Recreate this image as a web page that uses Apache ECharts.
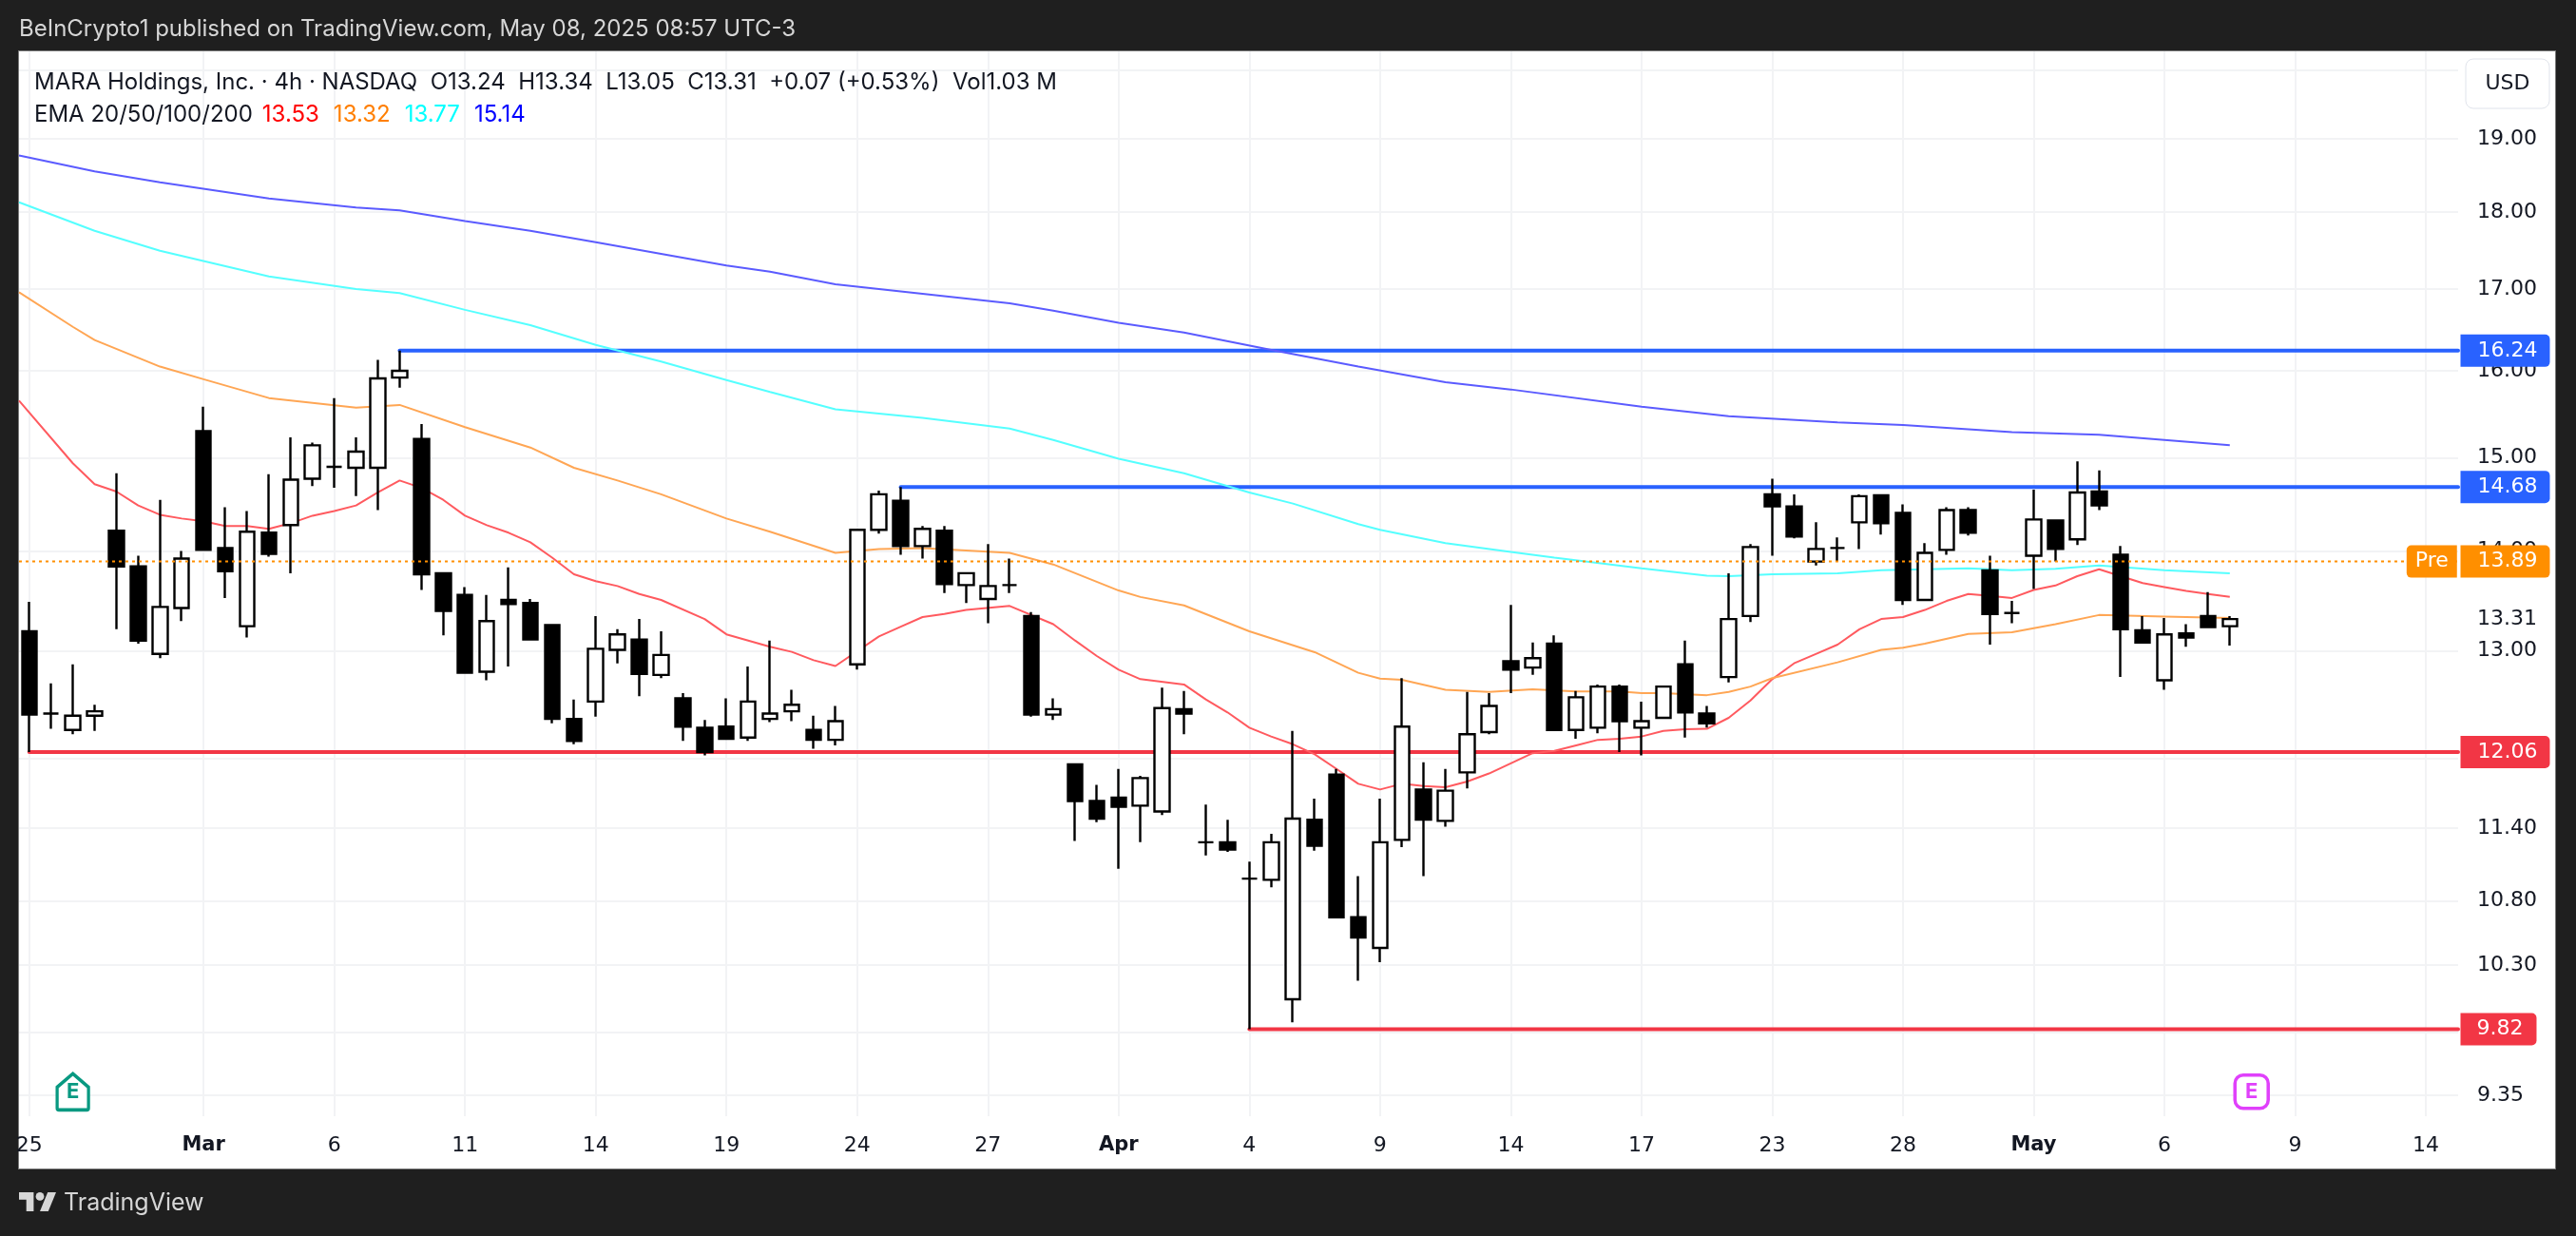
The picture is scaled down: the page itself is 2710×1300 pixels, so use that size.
<!DOCTYPE html>
<html>
<head>
    <meta charset="utf-8">
    <title>MARA Holdings 4h</title>
    <script type="text/javascript" src="https://cdn.jsdelivr.net/npm/echarts@6/dist/echarts.min.js"></script>
    <style>
        html, body { margin: 0; padding: 0; background: #1f1f1f; }
        #panel { position: absolute; left: 20px; top: 54px; width: 2668px; height: 1175px; background: #fff; border: 1px solid #7a7a7a; box-sizing: content-box; margin: -1px 0 0 -1px; }
        #main { position: absolute; left: 0; top: 0; width: 2710px; height: 1300px; }
    </style>
</head>

<body>
    <div id="panel"></div>
    <div id="main"></div>
    <script type="text/javascript">
    // candles, one per 4h session (2 a day)
    var opens = [13.19,12.41,12.26,12.39,14.21,13.84,12.97,13.42,15.30,14.03,13.24,14.19,14.27,14.77,14.90,14.89,14.89,15.92,15.21,13.77,13.55,12.80,13.50,13.47,13.25,12.36,12.52,13.01,13.11,12.77,12.55,12.28,12.29,12.19,12.36,12.43,12.26,12.17,12.87,14.22,14.53,14.05,14.21,13.65,13.51,13.65,13.34,12.40,11.95,11.63,11.66,11.59,11.54,12.45,11.28,11.28,10.98,10.97,10.04,11.47,11.86,10.67,10.43,11.30,11.73,11.46,11.88,12.24,12.90,12.84,13.07,12.26,12.28,12.66,12.28,12.37,12.87,12.41,12.75,13.34,14.60,14.47,13.89,14.03,14.30,14.59,14.40,13.50,14.01,14.43,13.80,13.37,13.95,14.32,14.12,14.63,13.96,13.20,12.72,13.17,13.34,13.24];
    var closes = [12.40,12.41,12.39,12.43,13.84,13.10,13.43,13.92,14.01,13.79,14.20,13.97,14.76,15.14,14.90,15.07,15.91,16.00,13.76,13.39,12.79,13.29,13.46,13.11,12.36,12.16,13.02,13.16,12.78,12.96,12.29,12.06,12.18,12.52,12.41,12.49,12.17,12.34,14.22,14.60,14.05,14.23,13.66,13.77,13.64,13.65,12.40,12.45,11.63,11.48,11.58,11.83,12.46,12.41,11.28,11.22,10.98,11.28,11.48,11.25,10.67,10.51,11.28,12.29,11.47,11.72,12.22,12.48,12.82,12.93,12.26,12.56,12.66,12.34,12.34,12.66,12.42,12.32,13.31,14.04,14.47,14.15,14.02,14.03,14.58,14.29,13.50,13.98,14.43,14.19,13.36,13.37,14.33,14.02,14.62,14.48,13.21,13.08,13.16,13.13,13.23,13.31];
    var lows = [12.06,12.27,12.22,12.25,13.21,13.07,12.93,13.29,14.00,13.52,13.13,13.94,13.77,14.69,14.67,14.58,14.43,15.80,13.60,13.15,12.79,12.72,12.85,13.11,12.32,12.13,12.38,12.88,12.57,12.74,12.16,12.03,12.18,12.16,12.33,12.34,12.09,12.12,12.82,14.18,13.96,13.92,13.57,13.47,13.27,13.57,12.38,12.35,11.29,11.45,11.06,11.28,11.51,12.22,11.17,11.20,9.82,10.91,9.87,11.21,10.66,10.18,10.32,11.24,11.00,11.41,11.74,12.22,12.60,12.77,12.25,12.18,12.23,12.06,12.03,12.37,12.19,12.28,12.70,13.28,13.95,14.13,13.85,13.89,14.02,14.17,13.45,13.50,13.96,14.16,13.06,13.27,13.61,13.89,14.06,14.43,12.75,13.07,12.63,13.04,13.22,13.05];
    var highs = [13.48,12.69,12.87,12.49,14.83,13.95,14.54,14.00,15.58,14.46,14.42,14.82,15.23,15.17,15.68,15.23,16.13,16.24,15.38,13.78,13.63,13.55,13.83,13.51,13.26,12.54,13.34,13.21,13.31,13.19,12.60,12.35,12.55,12.85,13.10,12.63,12.39,12.48,14.22,14.64,14.68,14.26,14.26,13.78,14.07,13.92,13.38,12.55,11.96,11.77,11.91,11.85,12.65,12.62,11.60,11.47,11.12,11.35,12.25,11.65,11.91,11.00,11.65,12.74,11.97,11.91,12.61,12.60,13.45,13.08,13.15,12.62,12.68,12.68,12.52,12.67,13.10,12.48,13.77,14.07,14.77,14.60,14.30,14.14,14.60,14.60,14.49,14.08,14.46,14.46,13.95,13.49,14.65,14.33,14.96,14.86,14.05,13.34,13.32,13.26,13.58,13.34];

    // EMA lines as [session index, price], only at the knots that could be read
    var ema20 = [[-0.47,15.65],[2,14.94],[3,14.71],[4,14.63],[5,14.48],[6,14.38],[7,14.34],[8,14.31],[9,14.26],[10,14.26],[11,14.23],[12,14.29],[13,14.37],[14,14.42],[15,14.48],[16,14.62],[17,14.75],[18,14.67],[19,14.54],[20,14.37],[21,14.27],[22,14.19],[23,14.09],[24,13.93],[25,13.76],[26,13.69],[27,13.64],[28,13.56],[29,13.50],[31,13.31],[32,13.16],[34,13.04],[35,12.99],[36,12.91],[37,12.855],[39,13.14],[40,13.235],[41,13.33],[42,13.36],[43,13.40],[45,13.44],[47,13.26],[48,13.10],[49,12.95],[50,12.82],[51,12.73],[53,12.68],[54,12.54],[55,12.42],[56,12.28],[57,12.20],[58,12.13],[59,12.04],[60,11.91],[61,11.78],[62,11.73],[63,11.78],[64,11.76],[65,11.75],[66,11.80],[67,11.87],[68,11.96],[69,12.05],[70,12.07],[71,12.12],[72,12.17],[73,12.18],[74,12.20],[75,12.25],[76,12.265],[77,12.27],[78,12.37],[79,12.53],[80,12.73],[81,12.88],[82,12.97],[83,13.06],[84,13.21],[85,13.31],[86,13.33],[87,13.40],[88,13.49],[89,13.56],[90,13.54],[91,13.52],[92,13.60],[93,13.645],[94,13.74],[95,13.81],[96,13.74],[97,13.67],[98,13.63],[99,13.59],[100,13.56],[101,13.53]];
    var ema50 = [[-0.47,16.96],[2,16.53],[3,16.37],[6,16.05],[8,15.90],[11,15.68],[15,15.57],[17,15.60],[20,15.345],[23,15.115],[25,14.89],[27,14.75],[29,14.60],[32,14.34],[34,14.20],[37,13.98],[39,14.02],[41,14.03],[45,13.98],[47,13.86],[50,13.595],[51,13.53],[53,13.445],[56,13.19],[59,12.987],[61,12.79],[62,12.735],[63,12.724],[65,12.63],[67,12.61],[69,12.635],[71,12.615],[73,12.615],[74,12.60],[75,12.60],[77,12.58],[78,12.61],[79,12.66],[80,12.74],[83,12.89],[85,13.01],[86,13.03],[87,13.07],[89,13.165],[91,13.18],[93,13.26],[95,13.35],[98,13.335],[101,13.32]];
    var ema100 = [[-0.47,18.13],[3,17.75],[6,17.49],[11,17.16],[15,17.00],[17,16.95],[20,16.74],[23,16.55],[26,16.31],[29,16.11],[32,15.89],[34,15.75],[37,15.55],[41,15.45],[45,15.33],[47,15.20],[50,14.99],[53,14.83],[56,14.62],[58,14.50],[61,14.28],[62,14.22],[65,14.08],[68,13.99],[70,13.93],[74,13.82],[77,13.745],[78,13.74],[80,13.76],[83,13.77],[85,13.80],[89,13.82],[91,13.80],[93,13.815],[95,13.85],[98,13.80],[101,13.77]];
    var ema200 = [[-0.47,18.77],[3,18.55],[6,18.40],[11,18.18],[15,18.06],[17,18.02],[20,17.88],[23,17.75],[26,17.60],[29,17.45],[32,17.30],[34,17.22],[37,17.06],[41,16.94],[45,16.82],[47,16.73],[50,16.58],[53,16.46],[57,16.25],[61,16.05],[65,15.865],[68,15.78],[74,15.58],[78,15.47],[83,15.40],[86,15.37],[91,15.29],[95,15.26],[101,15.14]];

    // drawn support / resistance levels
    var levelPrices = [16.24, 14.68, 12.06, 9.82];
    var levelStarts = [17, 40, 0, 56];
    var levelColors = ['#2962ff', '#2962ff', '#f23645', '#f23645'];
    var prePrice = 13.89;
    var earningsIdx = [2, 102];
    var earningsPrice = 9.375;

    // axes
    var xTickIdx = [0, 8, 14, 20, 26, 32, 38, 44, 50, 56, 62, 68, 74, 80, 86, 92, 98, 104, 110];
    var xTickText = ['25', 'Mar', '6', '11', '14', '19', '24', '27', 'Apr', '4', '9', '14', '17', '23', '28', 'May', '6', '9', '14'];
    var xMonths = ['Mar', 'Apr', 'May'];
    var priceGrid = [20, 19, 18, 17, 16, 15, 14, 13, 12, 11.4, 10.8, 10.3, 9.8, 9.35];
    var priceLabels = [19, 18, 17, 16, 15, 14, 13.31, 13, 11.4, 10.8, 10.3, 9.35];

    var xMin = -0.47, xMax = 111.48;
    var gridColor = '#f2f3f5';
    var textColor = '#131722';
    var font = 'Inter';
    var axisFont = 'DejaVu Sans';

    var candleData = [];
    for (var i = 0; i < opens.length; i++) {
        candleData.push([i, opens[i], closes[i], lows[i], highs[i]]);
    }

    function emaSeries(name, data, color) {
        return {
            name: name,
            type: 'line',
            data: data,
            showSymbol: false,
            smooth: false,
            z: 3,
            lineStyle: { color: color, width: 2 }
        };
    }

    var series = [];
    // levels sit under the candles
    for (var k = 0; k < levelPrices.length; k++) {
        series.push({
            type: 'line',
            data: [[levelStarts[k], levelPrices[k]], [xMax, levelPrices[k]]],
            showSymbol: false,
            z: 2,
            lineStyle: { color: levelColors[k], width: 4, cap: 'round' }
        });
    }
    series.push(emaSeries('EMA 20', ema20, '#ff5a5f'));
    series.push(emaSeries('EMA 50', ema50, '#ffa654'));
    series.push(emaSeries('EMA 100', ema100, '#55ffff'));
    series.push(emaSeries('EMA 200', ema200, '#5b5bff'));
    series.push({
        type: 'candlestick',
        data: candleData,
        barWidth: 16,
        z: 4,
        itemStyle: {
            color: '#ffffff',
            color0: '#000000',
            borderColor: '#000000',
            borderColor0: '#000000',
            borderWidth: 2.4
        }
    });
    series.push({
        type: 'line',
        data: [[xMin, prePrice], [xMax, prePrice]],
        showSymbol: false,
        z: 5,
        lineStyle: { color: '#ff8f00', width: 2, type: [3, 4] }
    });

    // price tags right of the pane
    var tagData = [];
    for (var t = 0; t < levelPrices.length; t++) {
        tagData.push({
            value: [xMax, levelPrices[t]],
            label: {
                backgroundColor: levelColors[t],
                padding: levelPrices[t] < 10 ? [6, 14, 6, 17] : [6, 13, 6, 18],
                formatter: levelPrices[t].toFixed(2)
            }
        });
    }
    tagData.push({
        value: [xMax, prePrice],
        label: { backgroundColor: '#ff8f00', padding: [6, 13, 6, 18], formatter: prePrice.toFixed(2) }
    });
    series.push({
        type: 'scatter',
        data: tagData,
        symbolSize: 1,
        clip: false,
        z: 6,
        itemStyle: { color: 'rgba(0,0,0,0)', opacity: 1 },
        label: {
            show: true,
            position: 'right',
            distance: 2,
            color: '#fff',
            fontFamily: axisFont,
            fontSize: 22,
            lineHeight: 22,
            borderRadius: [0, 5, 5, 0]
        }
    });
    series.push({
        type: 'scatter',
        data: [[109.05, prePrice]],
        symbolSize: 1,
        clip: false,
        z: 6,
        itemStyle: { color: 'rgba(0,0,0,0)', opacity: 1 },
        label: {
            show: true,
            position: 'right',
            distance: 1,
            formatter: 'Pre',
            color: '#fff',
            fontFamily: axisFont,
            fontSize: 22,
            lineHeight: 22,
            backgroundColor: '#ff8f00',
            padding: [6, 9, 6, 9],
            borderRadius: [5, 0, 0, 5]
        }
    });

    // earnings markers
    var eLabel = { show: true, position: 'inside', formatter: 'E', fontFamily: font, fontSize: 22, fontWeight: 700 };
    series.push({
        type: 'scatter',
        data: [[earningsIdx[0], earningsPrice]],
        symbol: 'path://M18 0 L36 15 L36 38 Q36 40 34 40 L2 40 Q0 40 0 38 L0 15 Z',
        symbolSize: [33, 38],
        z: 7,
        itemStyle: { color: '#fff', borderColor: '#089981', borderWidth: 3.5, opacity: 1 },
        label: Object.assign({}, eLabel, { color: '#089981' })
    });
    series.push({
        type: 'scatter',
        data: [[earningsIdx[1], earningsPrice]],
        symbol: 'roundRect',
        symbolSize: [35, 35],
        z: 7,
        itemStyle: { color: '#fff', borderColor: '#e040fb', borderWidth: 3.5, opacity: 1 },
        label: Object.assign({}, eLabel, { color: '#e040fb' })
    });

    var myChart = echarts.init(document.getElementById('main'), null, { renderer: 'canvas' });

    var dk = { color: textColor, fontFamily: font, fontSize: 24 };
    var option = {
        animation: false,
        backgroundColor: 'transparent',
        title: [{
            text: 'BeInCrypto1 published on TradingView.com, May 08, 2025 08:57 UTC-3',
            left: 20, top: 19, padding: 0,
            textStyle: { color: '#d6d6d6', fontFamily: font, fontSize: 24, fontWeight: 400 }
        }, {
            text: '{a|MARA Holdings, Inc. · 4h · NASDAQ  O13.24  H13.34  L13.05  C13.31  +0.07 (+0.53%)  Vol1.03 M}',
            left: 36, top: 75, padding: 0,
            textStyle: { fontWeight: 400, rich: { a: dk } }
        }, {
            text: '{a|EMA 20/50/100/200}  {r|13.53}  {o|13.32}  {c|13.77}  {b|15.14}',
            left: 36, top: 109, padding: 0,
            textStyle: {
                fontWeight: 400,
                rich: {
                    a: dk,
                    r: { color: '#ff0000', fontFamily: font, fontSize: 24 },
                    o: { color: '#ff7f00', fontFamily: font, fontSize: 24, padding: [0, 0, 0, 5] },
                    c: { color: '#00ffff', fontFamily: font, fontSize: 24, padding: [0, 0, 0, 5] },
                    b: { color: '#0000ff', fontFamily: font, fontSize: 24, padding: [0, 0, 0, 5] }
                }
            }
        }, {
            text: 'TradingView',
            left: 67, top: 1253, padding: 0,
            textStyle: { color: '#d6d6d6', fontFamily: font, fontSize: 25, fontWeight: 400 }
        }],
        grid: { left: 20, top: 54, width: 2566, height: 1120, containLabel: false },
        xAxis: {
            type: 'value',
            min: xMin,
            max: xMax,
            axisLine: { show: false },
            axisTick: { show: false, customValues: xTickIdx },
            splitLine: { show: true, lineStyle: { color: gridColor, width: 2 } },
            axisLabel: {
                customValues: xTickIdx,
                margin: 20,
                color: textColor,
                fontFamily: axisFont,
                fontSize: 22,
                formatter: function (val) {
                    var s = xTickText[xTickIdx.indexOf(val)];
                    return xMonths.indexOf(s) >= 0 ? '{m|' + s + '}' : s;
                },
                rich: { m: { color: textColor, fontFamily: axisFont, fontSize: 21, fontWeight: 700 } }
            }
        },
        yAxis: {
            type: 'log',
            position: 'right',
            logBase: 10,
            min: 9.2066,
            max: 20.276,
            axisLine: { show: false },
            axisTick: { show: false, customValues: priceGrid },
            splitLine: { show: true, lineStyle: { color: gridColor, width: 2 } },
            axisLabel: {
                customValues: priceLabels,
                margin: 20,
                color: textColor,
                fontFamily: axisFont,
                fontSize: 22,
                align: 'left',
                formatter: function (val) { return Number(val).toFixed(2); }
            }
        },
        graphic: [
            { type: 'rect', shape: { x: 2594, y: 62, width: 88, height: 52, r: 8 }, style: { fill: '#fff', stroke: '#e0e3eb', lineWidth: 1 } },
            { type: 'text', x: 2638, y: 88, style: { text: 'USD', fill: textColor, font: '22px "DejaVu Sans"', textAlign: 'center', textVerticalAlign: 'middle' } },
            // TradingView logo
            { type: 'polygon', shape: { points: [[35.4, 1274], [27.7, 1274], [27.7, 1261.8], [20, 1261.8], [20, 1254], [35.4, 1254]] }, style: { fill: '#d6d6d6' } },
            { type: 'polygon', shape: { points: [[50.8, 1274], [42, 1274], [50.2, 1254], [59, 1254]] }, style: { fill: '#d6d6d6' } },
            { type: 'circle', shape: { cx: 42, cy: 1258.4, r: 4.4 }, style: { fill: '#d6d6d6' } }
        ],
        series: series
    };
    myChart.setOption(option);
    </script>
</body>
</html>
